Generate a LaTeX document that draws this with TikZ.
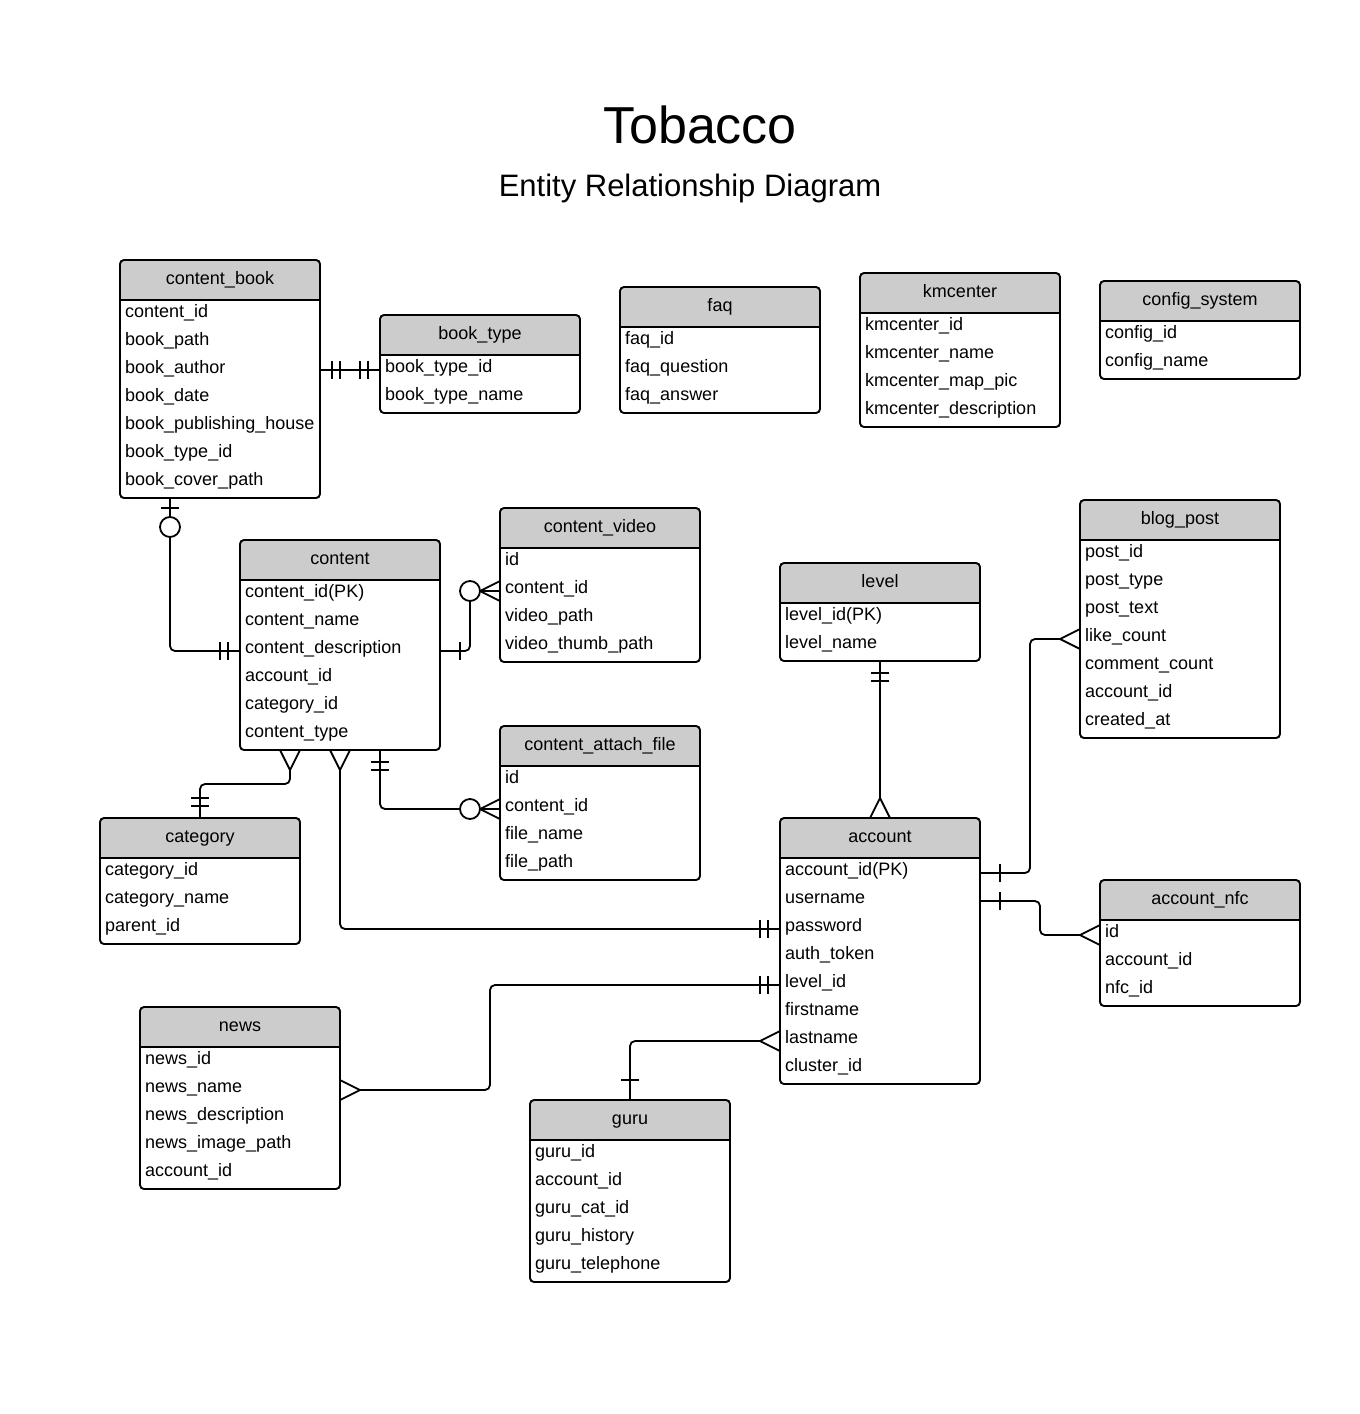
\documentclass[tikz,border=0pt]{standalone}
\usepackage{fontspec}
\setmainfont{Liberation Sans}
\usepackage{xcolor}
\usepackage{tikz}
\usetikzlibrary{calc,positioning}

\definecolor{headgray}{HTML}{CCCCCC}
\newcommand{\fieldfont}{\fontsize{18pt}{21pt}\selectfont}

% table: name, x, y, number of rows, title, rows
\newcommand{\entity}[6]{%
  \fill[headgray, rounded corners=4pt] (#2,#3) rectangle ++(200,40);
  \fill[headgray] (#2,#3+20) rectangle ++(200,20);
  \node[entityhead, anchor=north west] (#1) at (#2,#3) {#5};
  \coordinate (#1-s) at ($(#1.south west)+(0,28*#4+2)$);
  \draw[entityline, rounded corners=4pt] (#1.north west) rectangle (#1-s -| #1.east);
  \draw[entityline] (#1.south west) -- (#1.south east);
  \foreach \fld [count=\i] in {#6} {
    \coordinate (#1-\i) at ($(#1.south west)+(0,28*\i-13)$);
    \node[field] (#1-t\i) at ($(#1-\i)+(5,2.5)$) {\fld};
  }%
}

\begin{document}
\begin{tikzpicture}[x=1pt, y=-1pt, font=\fieldfont,
  entityhead/.style={minimum width=200pt, minimum height=40pt, inner sep=0pt,
    outer sep=0pt, text height=13pt, text depth=4pt},
  field/.style={inner sep=0pt, anchor=base west},
  entityline/.style={line width=1.9pt},
  conn/.style={line width=1.8pt},
  link/.style={conn, rounded corners=5pt},
  onebar/.pic={\draw[conn] (20,-9) -- (20,9);},
  twobar/.pic={\draw[conn] (12,-9) -- (12,9) (20,-9) -- (20,9);},
  crow/.pic={\draw[conn] (0,-10) -- (20,0) -- (0,10);},
  zerocrow/.pic={\draw[conn] (0,-10) -- (20,0) -- (0,10);
    \draw[conn, fill=white] (30,0) circle (10pt);},
  zeroone/.pic={\draw[conn] (10,-9) -- (10,9);
    \draw[conn, fill=white] (29,0) circle (10pt);}]
  \fill[white] (0,0) rectangle (1360,1414);
  \useasboundingbox (0,0) rectangle (1360,1414);

  % Title
  \node[font=\fontsize{52pt}{60pt}\selectfont] (title) at (700,125) {Tobacco};
  \node[font=\fontsize{31pt}{36pt}\selectfont] (subtitle) at (690,188)
    {Entity Relationship Diagram};

  % Tables
  \entity{contentbook}{120}{260}{7}{content\_book}{content\_id, book\_path,
    book\_author, book\_date, book\_publishing\_house, book\_type\_id,
    book\_cover\_path}
  \entity{booktype}{380}{315}{2}{book\_type}{book\_type\_id, book\_type\_name}
  \entity{faq}{620}{287}{3}{faq}{faq\_id, faq\_question, faq\_answer}
  \entity{kmcenter}{860}{273}{4}{kmcenter}{kmcenter\_id, kmcenter\_name,
    kmcenter\_map\_pic, kmcenter\_description}
  \entity{config}{1100}{281}{2}{config\_system}{config\_id, config\_name}
  \entity{content}{240}{540}{6}{content}{content\_id(PK), content\_name,
    content\_description, account\_id, category\_id, content\_type}
  \entity{video}{500}{508}{4}{content\_video}{id, content\_id, video\_path,
    video\_thumb\_path}
  \entity{attach}{500}{726}{4}{content\_attach\_file}{id, content\_id,
    file\_name, file\_path}
  \entity{level}{780}{563}{2}{level}{level\_id(PK), level\_name}
  \entity{blog}{1080}{500}{7}{blog\_post}{post\_id, post\_type, post\_text,
    like\_count, comment\_count, account\_id, created\_at}
  \entity{category}{100}{818}{3}{category}{category\_id, category\_name,
    parent\_id}
  \entity{account}{780}{818}{8}{account}{account\_id(PK), username, password,
    auth\_token, level\_id, firstname, lastname, cluster\_id}
  \entity{nfc}{1100}{880}{3}{account\_nfc}{id, account\_id, nfc\_id}
  \entity{news}{140}{1007}{5}{news}{news\_id, news\_name, news\_description,
    news\_image\_path, account\_id}
  \entity{guru}{530}{1100}{5}{guru}{guru\_id, account\_id, guru\_cat\_id,
    guru\_history, guru\_telephone}

  % Relations
  \draw[link] (contentbook.east |- booktype-1) -- (booktype-1);
  \draw[link] ($(contentbook-s)+(50,0)$) |- (content-3);
  \draw[link] (content.east |- content-3) -| ($(video-2)+(-30,0)$) -- (video-2);
  \draw[link, shorten <=20pt] ($(content-s)+(50,0)$)
    |- ($(category.north)+(0,-34)$) -- (category.north);
  \draw[link, shorten <=20pt] ($(content-s)+(100,0)$) |- (account-3);
  \draw[link] ($(content-s)+(140,0)$) |- (attach-2);
  \draw[link, shorten >=20pt] ($(level-s)+(100,0)$) -- (account.north);
  \draw[link, shorten >=20pt] (account.east |- account-1)
    -| ($(blog-4)+(-50,0)$) -- (blog-4);
  \draw[link, shorten >=20pt] (account.east |- account-2)
    -| ($(nfc-1)+(-60,0)$) -- (nfc-1);
  \draw[link, shorten >=20pt] (account-5)
    -| ($(news.east |- news-2)+(150,0)$) -- (news.east |- news-2);
  \draw[link, shorten <=20pt] (account-7) -| (guru.north);

  % Ends
  \pic at (contentbook.east |- booktype-1) {twobar};
  \pic[rotate=180] at (booktype-1) {twobar};
  \pic[rotate=-90] at ($(contentbook-s)+(50,0)$) {zeroone};
  \pic[rotate=180] at (content-3) {twobar};
  \pic at (content.east |- content-3) {onebar};
  \pic[rotate=180] at (video-2) {zerocrow};
  \pic[rotate=-90] at ($(content-s)+(50,0)$) {crow};
  \pic[rotate=90] at (category.north) {twobar};
  \pic[rotate=-90] at ($(content-s)+(100,0)$) {crow};
  \pic[rotate=180] at (account-3) {twobar};
  \pic[rotate=-90] at ($(content-s)+(140,0)$) {twobar};
  \pic[rotate=180] at (attach-2) {zerocrow};
  \pic[rotate=-90] at ($(level-s)+(100,0)$) {twobar};
  \pic[rotate=90] at (account.north) {crow};
  \pic at (account.east |- account-1) {onebar};
  \pic[rotate=180] at (blog-4) {crow};
  \pic at (account.east |- account-2) {onebar};
  \pic[rotate=180] at (nfc-1) {crow};
  \pic[rotate=180] at (account-5) {twobar};
  \pic at (news.east |- news-2) {crow};
  \pic[rotate=180] at (account-7) {crow};
  \pic[rotate=90] at (guru.north) {onebar};
\end{tikzpicture}
\end{document}
